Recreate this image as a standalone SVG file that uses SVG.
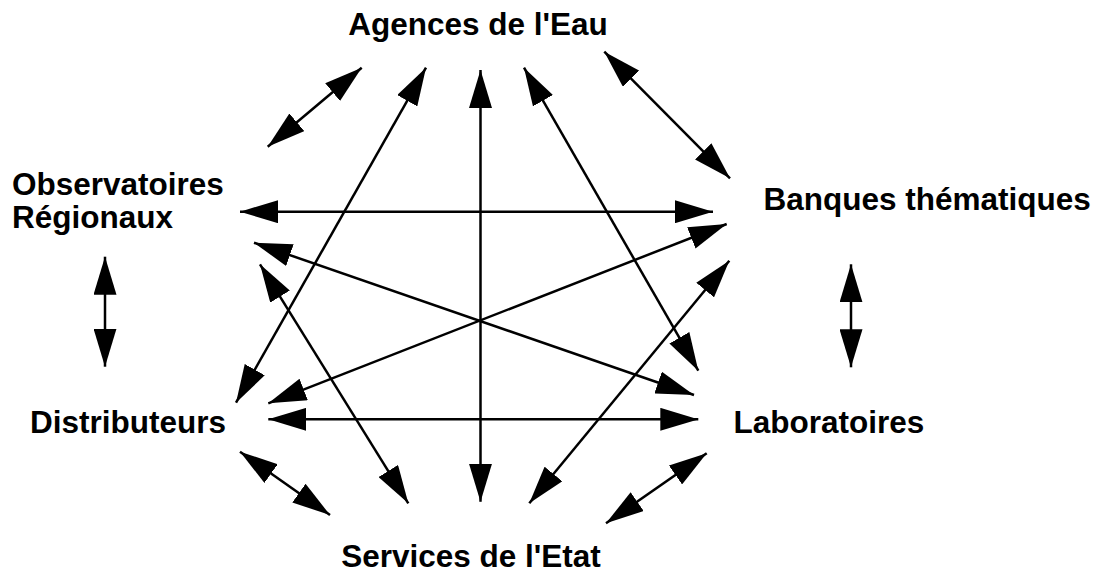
<svg xmlns="http://www.w3.org/2000/svg" width="1100" height="572" viewBox="0 0 1100 572">
<style>
.lbl{font-family:"Liberation Sans",Arial,sans-serif;font-weight:bold;font-size:31.5px;fill:#000}
.c line{stroke:#000;stroke-width:2.5;marker-start:url(#ah);marker-end:url(#ah)}
</style>
<defs>
<marker id="ah" markerUnits="userSpaceOnUse" viewBox="0 -11.5 38 23" refX="38" refY="0" markerWidth="38" markerHeight="23" orient="auto-start-reverse">
<path d="M38,0 L0,-11.5 L0,11.5 Z" fill="#000"/>
</marker>
</defs>
<rect width="1100" height="572" fill="#fff"/>
<g id="connectors" class="c">
<line x1="267.7" y1="146.7" x2="361.7" y2="67.7"/>
<line x1="236" y1="402.7" x2="426" y2="67.7"/>
<line x1="480.5" y1="501.7" x2="480.5" y2="70"/>
<line x1="240" y1="211.7" x2="713" y2="211.7"/>
<line x1="698.3" y1="370.7" x2="524" y2="67.7"/>
<line x1="604.3" y1="51.7" x2="730" y2="178.3"/>
<line x1="268.3" y1="403.3" x2="726.7" y2="224"/>
<line x1="254" y1="242.7" x2="694" y2="395"/>
<line x1="260" y1="264.3" x2="408.3" y2="503.3"/>
<line x1="529.3" y1="503.3" x2="729.3" y2="260.7"/>
<line x1="268.3" y1="419.3" x2="698.3" y2="419.3"/>
<line x1="240" y1="451.7" x2="330" y2="515"/>
<line x1="706.7" y1="453.3" x2="606" y2="523.3"/>
<line x1="105" y1="256.7" x2="105" y2="366.7"/>
<line x1="851" y1="264.3" x2="851" y2="367.3"/>
</g>
<g id="agences"><text class="lbl" x="478" y="35" text-anchor="middle">Agences de l'Eau</text></g>
<g id="observatoires"><text class="lbl" x="12" y="195">Observatoires</text><text class="lbl" x="12" y="228.3">Régionaux</text></g>
<g id="banques"><text class="lbl" x="763.5" y="210">Banques thématiques</text></g>
<g id="distributeurs"><text class="lbl" x="30" y="432.7">Distributeurs</text></g>
<g id="laboratoires"><text class="lbl" x="733.5" y="433.3">Laboratoires</text></g>
<g id="services"><text class="lbl" x="471" y="566.5" text-anchor="middle">Services de l'Etat</text></g>
</svg>
